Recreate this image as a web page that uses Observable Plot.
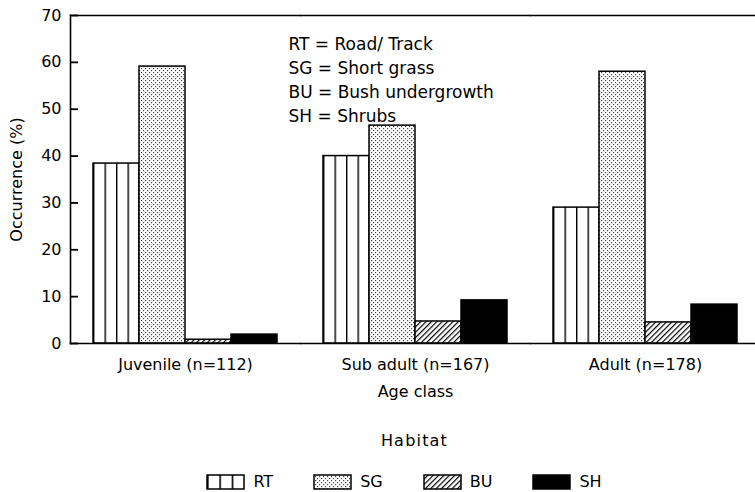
<!DOCTYPE html>
<html>
<head>
<meta charset="utf-8">
<script src="https://cdn.jsdelivr.net/npm/d3@7"></script>
<script src="https://cdn.jsdelivr.net/npm/@observablehq/plot@0.6"></script>
<style>
  html, body { margin: 0; padding: 0; background: #fff; overflow: hidden; }
  body { width: 755px; height: 492px; font-family: "DejaVu Sans", sans-serif; color: #000; }
  #legend { text-align: center; }
  #legend .title { font-size: 16px; line-height: 20px; letter-spacing: 1.2px; margin-top: 26px; margin-left: 74px; }
  #legend .row { display: flex; justify-content: center; margin-top: 23px; margin-left: 53px; }
  #legend .item { display: flex; align-items: center; margin: 0 20px; font-size: 16px; line-height: 16px; height: 16px; }
  #legend .item svg { margin-right: 8px; display: block; }
</style>
</head>
<body>
<svg width="0" height="0" style="position:absolute">
  <defs>
    <pattern id="pRT" patternUnits="objectBoundingBox" width="0.25" height="1">
      <rect x="0" y="0" width="1000" height="1000" fill="#fff"/>
      <rect x="0" y="0" width="1.4" height="1000" fill="#000"/>
    </pattern>
    <pattern id="pRTL" patternUnits="objectBoundingBox" width="0.3334" height="1">
      <rect x="0" y="0" width="1000" height="1000" fill="#fff"/>
      <rect x="0" y="0" width="1.6" height="1000" fill="#000"/>
    </pattern>
    <pattern id="pSG" patternUnits="userSpaceOnUse" width="4" height="4">
      <rect x="0" y="0" width="4" height="4" fill="#fff"/>
      <rect x="0" y="0" width="1.2" height="1.2" fill="#444"/>
      <rect x="2" y="2" width="1.2" height="1.2" fill="#444"/>
    </pattern>
    <pattern id="pBU" patternUnits="userSpaceOnUse" width="3.8" height="3.8" patternTransform="rotate(45)">
      <rect x="0" y="0" width="3.8" height="3.8" fill="#fff"/>
      <rect x="0" y="0" width="1.2" height="3.8" fill="#000"/>
    </pattern>
  </defs>
</svg>
<div id="chart"></div>
<div id="legend"></div>
<script>
// ---- data ----
const groups = ["Juvenile (n=112)", "Sub adult (n=167)", "Adult (n=178)"];
const habitats = ["RT", "SG", "BU", "SH"];
const RT = [38.4, 40.0, 29.0];
const SG = [59.1, 46.5, 58.0];
const BU = [0.8, 4.7, 4.5];
const SH = [1.9, 9.2, 8.3];
const yTicks = [0, 10, 20, 30, 40, 50, 60, 70];
const keyLines = ["RT = Road/ Track", "SG = Short grass", "BU = Bush undergrowth", "SH = Shrubs"];
const habitatFills = ["url(#pRT)", "url(#pSG)", "url(#pBU)", "#000"];
const legendFills = ["url(#pRTL)", "url(#pSG)", "url(#pBU)", "#000"];

const series = {RT, SG, BU, SH};
const data = [];
groups.forEach((g, i) => habitats.forEach(h => data.push({group: g, habitat: h, value: series[h][i]})));

const chart = Plot.plot({
  width: 755,
  height: 405,
  marginTop: 15,
  marginBottom: 62,
  marginLeft: 69,
  marginRight: -6,
  style: {fontFamily: "DejaVu Sans, sans-serif", fontSize: "16px", color: "#000", background: "#fff", overflow: "visible"},
  fx: {domain: groups, paddingInner: 0, paddingOuter: 0},
  x: {domain: habitats, paddingInner: 0, paddingOuter: 0.494, axis: null},
  y: {domain: [0, 70], axis: null},
  color: {domain: habitats, range: habitatFills},
  marks: [
    Plot.barY(data, {fx: "group", x: "habitat", y: "value", fill: "habitat", stroke: "#000", strokeWidth: 1.5}),
    Plot.frame({anchor: "left", facetAnchor: "left", strokeWidth: 1.6}),
    Plot.frame({anchor: "top", strokeWidth: 1.6}),
    Plot.frame({anchor: "bottom", strokeWidth: 1.6}),
    // inward tick marks (ticks only, shifted inside the frame)
    Plot.axisY({ticks: yTicks, tickSize: 8, dx: 8, fill: "none", label: null, stroke: "#000", strokeWidth: 1.8}),
    // tick labels and axis title
    Plot.axisY({ticks: yTicks, tickSize: 0, tickPadding: 9,
      label: "Occurrence (%)", labelAnchor: "center", labelArrow: "none", labelOffset: 60}),
    Plot.axisFx({anchor: "bottom", tickSize: 0, tickPadding: 15, label: "Age class",
      labelAnchor: "center", labelArrow: "none", labelOffset: 53}),
    Plot.text([keyLines.join("\n")], {text: d => d, frameAnchor: "top-left", facetAnchor: "left",
      dx: 218, dy: 17, lineAnchor: "top", textAnchor: "start", lineHeight: 1.42,
      fontSize: 17, fill: "#000"})
  ]
});
document.getElementById("chart").appendChild(chart);

// ---- legend ----
const legend = document.getElementById("legend");
const t = document.createElement("div");
t.className = "title";
t.textContent = "Habitat";
legend.appendChild(t);
const row = document.createElement("div");
row.className = "row";
habitats.forEach((h, i) => {
  const item = document.createElement("div");
  item.className = "item";
  item.innerHTML = `<svg width="39" height="16"><rect x="1" y="1" width="37" height="14" fill="${legendFills[i]}" stroke="#000" stroke-width="1.5"/></svg><span>${h}</span>`;
  row.appendChild(item);
});
legend.appendChild(row);
</script>
</body>
</html>
